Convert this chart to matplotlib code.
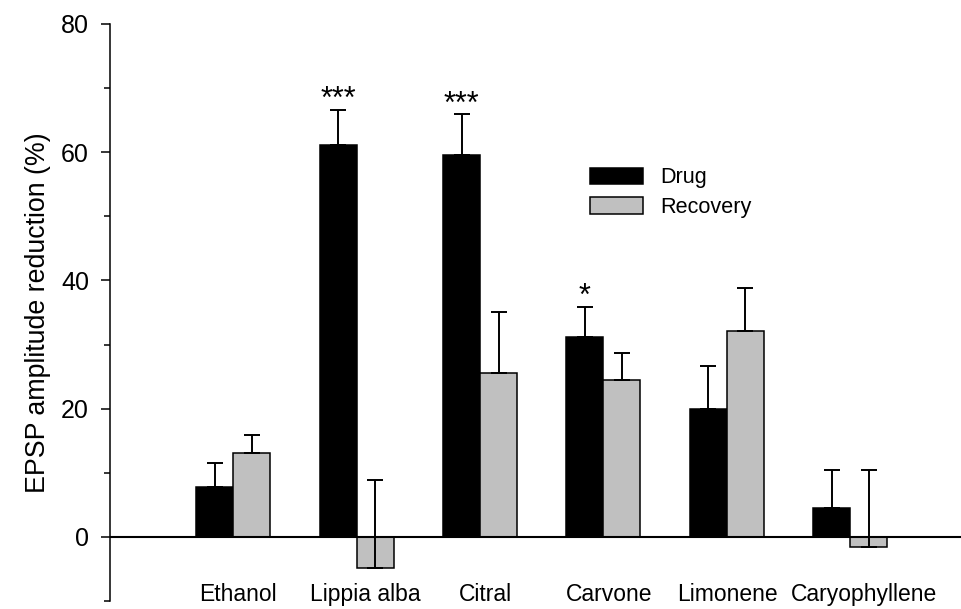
import numpy as np
import matplotlib
matplotlib.use("Agg")
import matplotlib.pyplot as plt
from matplotlib.ticker import MultipleLocator

plt.rcParams['font.family'] = ['Liberation Sans', 'DejaVu Sans']

compounds = ['Ethanol', 'Lippia alba', 'Citral', 'Carvone', 'Limonene', 'Caryophyllene']
drug = [7.8, 61.1, 59.5, 31.2, 19.9, 4.5]
drug_err = [3.8, 5.5, 6.4, 4.7, 6.8, 5.9]
recovery = [13.1, -4.8, 25.6, 24.5, 32.1, -1.6]
recovery_err = [2.8, 13.6, 9.5, 4.2, 6.8, 12.0]
stars = ['', '***', '***', '*', '', '']


def make_plot():
    fig = plt.figure(figsize=(9.61, 6.09), dpi=100)
    ax = fig.add_axes([0.1145, 0.0131, 0.8855, 0.9475])

    x = np.arange(len(compounds))
    w = 0.3
    zeros = np.zeros(len(compounds))

    ax.bar(x - w / 2, drug, w, color='black', edgecolor='black', linewidth=1.1,
           label='Drug', zorder=2)
    ax.bar(x + w / 2, recovery, w, color='#c0c0c0', edgecolor='black', linewidth=1.1,
           label='Recovery', zorder=2)

    # only the upper half of each error bar is drawn
    ax.errorbar(x - w / 2, drug, yerr=[zeros, drug_err], fmt='none', ecolor='black',
                elinewidth=1.4, capsize=6, capthick=1.4, zorder=3)
    ax.errorbar(x + w / 2, recovery, yerr=[zeros, recovery_err], fmt='none', ecolor='black',
                elinewidth=1.4, capsize=6, capthick=1.4, zorder=3)

    for i, s in enumerate(stars):
        if s:
            ax.text(x[i] - w / 2, drug[i] + drug_err[i] + 0.3, s, ha='center',
                    va='baseline', fontsize=22)

    ax.axhline(0, color='black', linewidth=1.5, zorder=4)

    # category names are not exactly centred under their groups in the original
    shifts = [0.035, 0.07, 0.04, 0.05, 0.005, 0.115]
    for i, name in enumerate(compounds):
        ax.text(x[i] + shifts[i], -9, name, ha='center', va='center', fontsize=16.5)

    ax.set_xlim(-1.0, 5.9)
    ax.set_ylim(-10, 80)
    ax.set_xticks([])
    ax.yaxis.set_major_locator(MultipleLocator(20))
    ax.yaxis.set_minor_locator(MultipleLocator(10))
    ax.tick_params(axis='y', which='major', length=6.5, width=1.1, pad=8.6, labelsize=18)
    ax.tick_params(axis='y', which='minor', length=4, width=1.1)
    for side in ['top', 'right', 'bottom']:
        ax.spines[side].set_visible(False)
    ax.spines['left'].set_linewidth(1.1)

    ax.set_ylabel('EPSP amplitude reduction (%)', fontsize=19.3, labelpad=7)

    ax.legend(loc='upper left', bbox_to_anchor=(590 / 961, 1 - 167.5 / 609),
              bbox_transform=fig.transFigure, frameon=False, fontsize=15.6,
              handlelength=2.45, handleheight=0.8, handletextpad=0.8,
              labelspacing=0.4, borderpad=0, borderaxespad=0)

    fig.savefig('out.png', dpi=100)


if __name__ == "__main__":
    make_plot()
